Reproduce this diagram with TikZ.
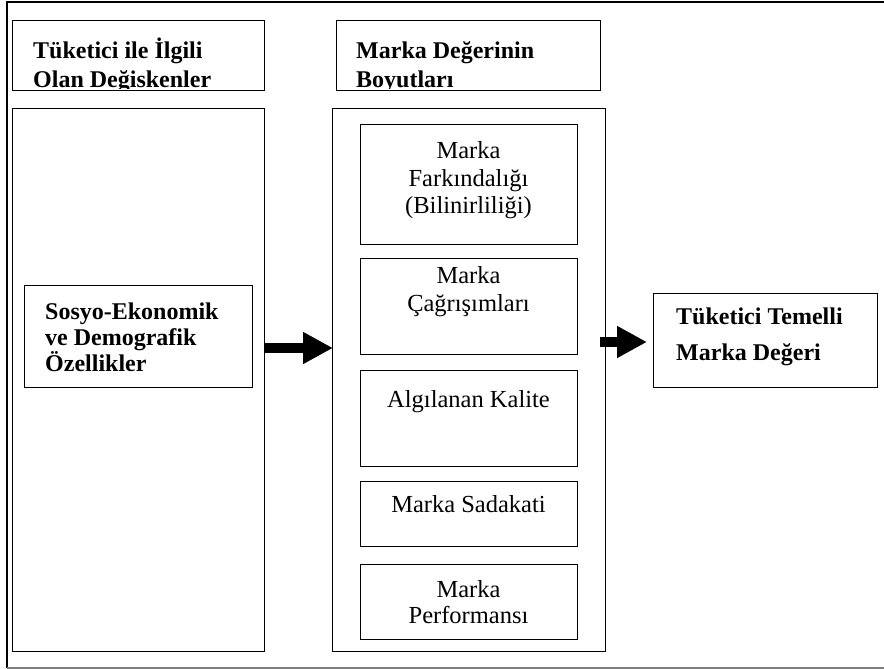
\documentclass[tikz,border=0pt]{standalone}
\usepackage{fontspec}
\setmainfont{Liberation Serif}
\usetikzlibrary{arrows.meta}
\begin{document}
\begin{tikzpicture}[x=1pt,y=-1pt,
  box/.style={draw=black,line width=1.4pt,anchor=north west,inner sep=0pt},
  btext/.style={font=\fontsize{24}{27}\selectfont\bfseries,anchor=base west,inner sep=0pt},
  rtext/.style={font=\fontsize{24.5}{27}\selectfont,anchor=base,inner sep=0pt},
  bigarrow/.style={line width=10pt,-{Triangle[width=30pt,length=30pt]}}]
\useasboundingbox (0,0) rectangle (884,669);
% outer frame
\draw[line width=1.4pt] (884,2) -- (7,2) -- (7,668);
\draw[line width=1.2pt,gray] (7,668) -- (884,668);
% top header boxes
\begin{scope}
\clip (12,20) rectangle (264,89);
\node[btext] (h1a) at (33,59) {Tüketici ile İlgili};
\node[btext] (h1b) at (33,87.5) {Olan Değiskenler};
\end{scope}
\begin{scope}
\clip (336,20) rectangle (600,89);
\node[btext] (h2a) at (356,59) {Marka Değerinin};
\node[btext] (h2b) at (356,87.5) {Boyutları};
\end{scope}
\node[box,minimum width=252pt,minimum height=70pt] (h1) at (12,20) {};
\node[box,minimum width=264pt,minimum height=70pt] (h2) at (336,20) {};
% left big box
\node[box,minimum width=252pt,minimum height=543pt] (lbox) at (12,108) {};
\node[box,minimum width=228pt,minimum height=102pt] (sosyo) at (24,285) {};
\node[btext] (s1) at (45,319) {Sosyo-Ekonomik};
\node[btext] (s2) at (45,345) {ve Demografik};
\node[btext] (s3) at (45,371) {Özellikler};
% middle big box
\node[box,minimum width=273pt,minimum height=543pt] (mbox) at (332,108) {};
\node[box,minimum width=217pt,minimum height=120pt] (b1) at (360,124) {};
\node[rtext] (b1a) at (468.5,158) {Marka};
\node[rtext] (b1b) at (468.5,186) {Farkındalığı};
\node[rtext] (b1c) at (468.5,213) {(Bilinirliliği)};
\node[box,minimum width=217pt,minimum height=96pt] (b2) at (360,258) {};
\node[rtext] (b2a) at (468.5,283) {Marka};
\node[rtext] (b2b) at (468.5,311) {Çağrışımları};
\node[box,minimum width=217pt,minimum height=96pt] (b3) at (360,370) {};
\node[rtext] (b3a) at (468.5,407) {Algılanan Kalite};
\node[box,minimum width=217pt,minimum height=65pt] (b4) at (360,481) {};
\node[rtext] (b4a) at (468.5,512) {Marka Sadakati};
\node[box,minimum width=217pt,minimum height=75pt] (b5) at (360,564) {};
\node[rtext] (b5a) at (468.5,597) {Marka};
\node[rtext] (b5b) at (468.5,623) {Performansı};
% right box
\node[box,minimum width=224pt,minimum height=94pt] (rbox) at (653,293) {};
\node[btext] (r1) at (676,324) {Tüketici Temelli};
\node[btext] (r2) at (676,360) {Marka Değeri};
% arrows
\coordinate (a1) at (0,348);
\coordinate (a2) at (600,342);
\draw[bigarrow] (lbox.east |- a1) -- ([xshift=1pt]mbox.west |- a1);
\draw[bigarrow] (a2) -- ([xshift=-6pt]rbox.west |- a2);
\end{tikzpicture}
\end{document}
